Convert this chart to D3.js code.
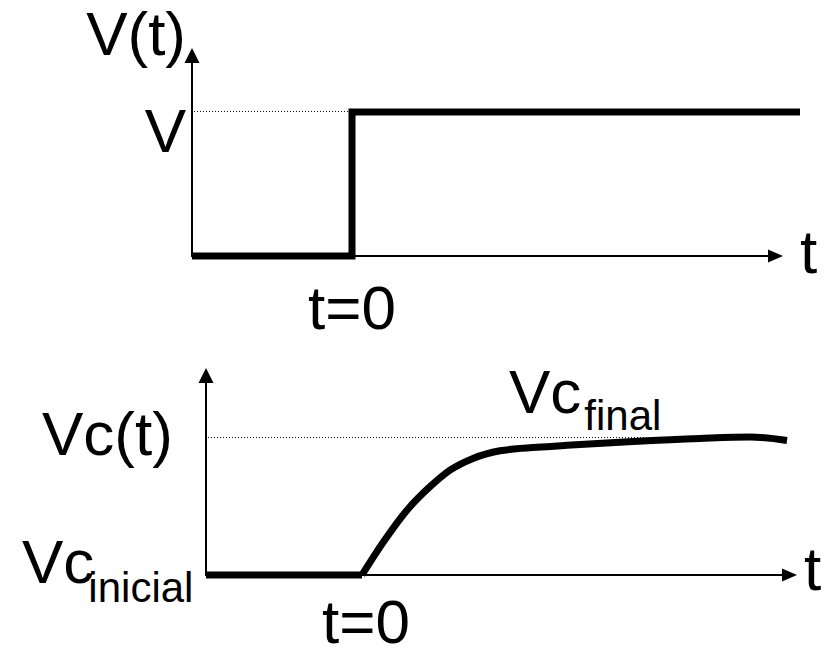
<!DOCTYPE html>
<html>
<head>
<meta charset="utf-8">
<script src="https://cdn.jsdelivr.net/npm/d3@7"></script>
<style>
  html, body { margin: 0; padding: 0; background: #fff; }
  svg { display: block; }
  text { font-family: "Liberation Sans", Arial, sans-serif; fill: #000; }
</style>
</head>
<body>
<script>
// ---- data ----
// Top chart: step input V(t)
const stepT = [-1.6, 0, 0, 4.48];
const stepV = [0, 0, 1, 1];
// Bottom chart: capacitor voltage Vc(t) (normalised: 0 = Vc inicial, 1 = Vc final)
const flatT = [-1.56, 0];
const flatV = [0, 0];
const vcT = [0, 0.21, 0.45, 0.68, 0.88, 1.11, 1.38, 1.75, 2.05, 2.71, 3.38, 3.88, 4.25];
const vcV = [0, 0.235, 0.47, 0.64, 0.76, 0.845, 0.9, 0.925, 0.94, 0.968, 0.99, 1.0, 0.975];
// labels
const topYTitle = "V(t)";
const topYTick = "V";
const topXTick = "t=0";
const xTitle = "t";
const botYTitle = "Vc(t)";
const botInitial = ["Vc", "inicial"];
const botFinal = ["Vc", "final"];

const W = 829, H = 650;
const svg = d3.select("body").append("svg").attr("width", W).attr("height", H);
const FS = 62, SUB = 42;

function drawAxes(x, y, xMax, yMax) {
  const g = svg.append("g");
  const x0 = x(x.domain()[0]), y0 = y(0);
  const xt = x(xMax), yt = y(yMax);
  g.append("line").attr("x1", x0).attr("y1", y0).attr("x2", xt - 12).attr("y2", y0)
    .attr("stroke", "#000").attr("stroke-width", 2);
  g.append("line").attr("x1", x0).attr("y1", y0 + 1).attr("x2", x0).attr("y2", yt + 12)
    .attr("stroke", "#000").attr("stroke-width", 2);
  g.append("path").attr("d", `M${xt},${y0} L${xt - 15},${y0 - 6.5} L${xt - 15},${y0 + 6.5} Z`).attr("fill", "#000");
  g.append("path").attr("d", `M${x0},${yt} L${x0 - 7.5},${yt + 15} L${x0 + 7.5},${yt + 15} Z`).attr("fill", "#000");
}

// ---------- Top chart ----------
const xTop = d3.scaleLinear().domain([-1.6, 4.31]).range([192, 783]);
const yTop = d3.scaleLinear().domain([0, 1]).range([256, 112]);

svg.append("line")
  .attr("x1", xTop(-1.6) + 2).attr("x2", xTop(0) - 2)
  .attr("y1", yTop(1) - 0.5).attr("y2", yTop(1) - 0.5)
  .attr("stroke", "#111").attr("stroke-width", 1).attr("stroke-dasharray", "1,2");

drawAxes(xTop, yTop, 4.31, 1.444);

svg.append("path")
  .datum(stepT.map((t, i) => [t, stepV[i]]))
  .attr("d", d3.line().x(d => xTop(d[0])).y(d => yTop(d[1])))
  .attr("fill", "none").attr("stroke", "#000").attr("stroke-width", 7)
  .attr("stroke-linejoin", "miter").attr("stroke-linecap", "butt");

svg.append("text").attr("x", 186).attr("y", 55).attr("text-anchor", "end")
  .attr("font-size", FS).text(topYTitle);
svg.append("text").attr("x", 186).attr("y", yTop(1) + 40).attr("text-anchor", "end")
  .attr("font-size", FS).text(topYTick);
svg.append("text").attr("x", xTop(0)).attr("y", yTop(0) + 73).attr("text-anchor", "middle")
  .attr("font-size", FS).text(topXTick);
svg.append("text").attr("x", 800).attr("y", yTop(0) + 17)
  .attr("font-size", FS).text(xTitle);

// ---------- Bottom chart ----------
const xBot = d3.scaleLinear().domain([-1.56, 4.35]).range([206, 797]);
const yBot = d3.scaleLinear().domain([0, 1]).range([575, 437]);

svg.append("line")
  .attr("x1", xBot(-1.56) + 2).attr("x2", xBot(3.3))
  .attr("y1", yBot(1) + 0.5).attr("y2", yBot(1) + 0.5)
  .attr("stroke", "#111").attr("stroke-width", 1).attr("stroke-dasharray", "1,2");

drawAxes(xBot, yBot, 4.35, 1.5);

svg.append("path")
  .datum(flatT.map((t, i) => [t, flatV[i]]))
  .attr("d", d3.line().x(d => xBot(d[0])).y(d => yBot(d[1])))
  .attr("fill", "none").attr("stroke", "#000").attr("stroke-width", 7);

svg.append("path")
  .datum(vcT.map((t, i) => [t, vcV[i]]))
  .attr("d", d3.line().x(d => xBot(d[0])).y(d => yBot(d[1])).curve(d3.curveMonotoneX))
  .attr("fill", "none").attr("stroke", "#000").attr("stroke-width", 7)
  .attr("stroke-linejoin", "round").attr("stroke-linecap", "butt");

svg.append("text").attr("x", 42).attr("y", yBot(1) + 18)
  .attr("font-size", FS).text(botYTitle);

const ti = svg.append("text").attr("x", 22).attr("y", yBot(0) + 8).attr("font-size", FS);
ti.append("tspan").text(botInitial[0]);
ti.append("tspan").attr("dy", 19).attr("dx", -6).attr("font-size", SUB).text(botInitial[1]);

const tf = svg.append("text").attr("x", 509).attr("y", 413).attr("font-size", FS);
tf.append("tspan").text(botFinal[0]);
tf.append("tspan").attr("dy", 17).attr("dx", 3).attr("font-size", SUB).text(botFinal[1]);

svg.append("text").attr("x", xBot(0) + 4).attr("y", yBot(0) + 68).attr("text-anchor", "middle")
  .attr("font-size", FS).text(topXTick);
svg.append("text").attr("x", 804).attr("y", yBot(0) + 15)
  .attr("font-size", FS).text(xTitle);
</script>
</body>
</html>
